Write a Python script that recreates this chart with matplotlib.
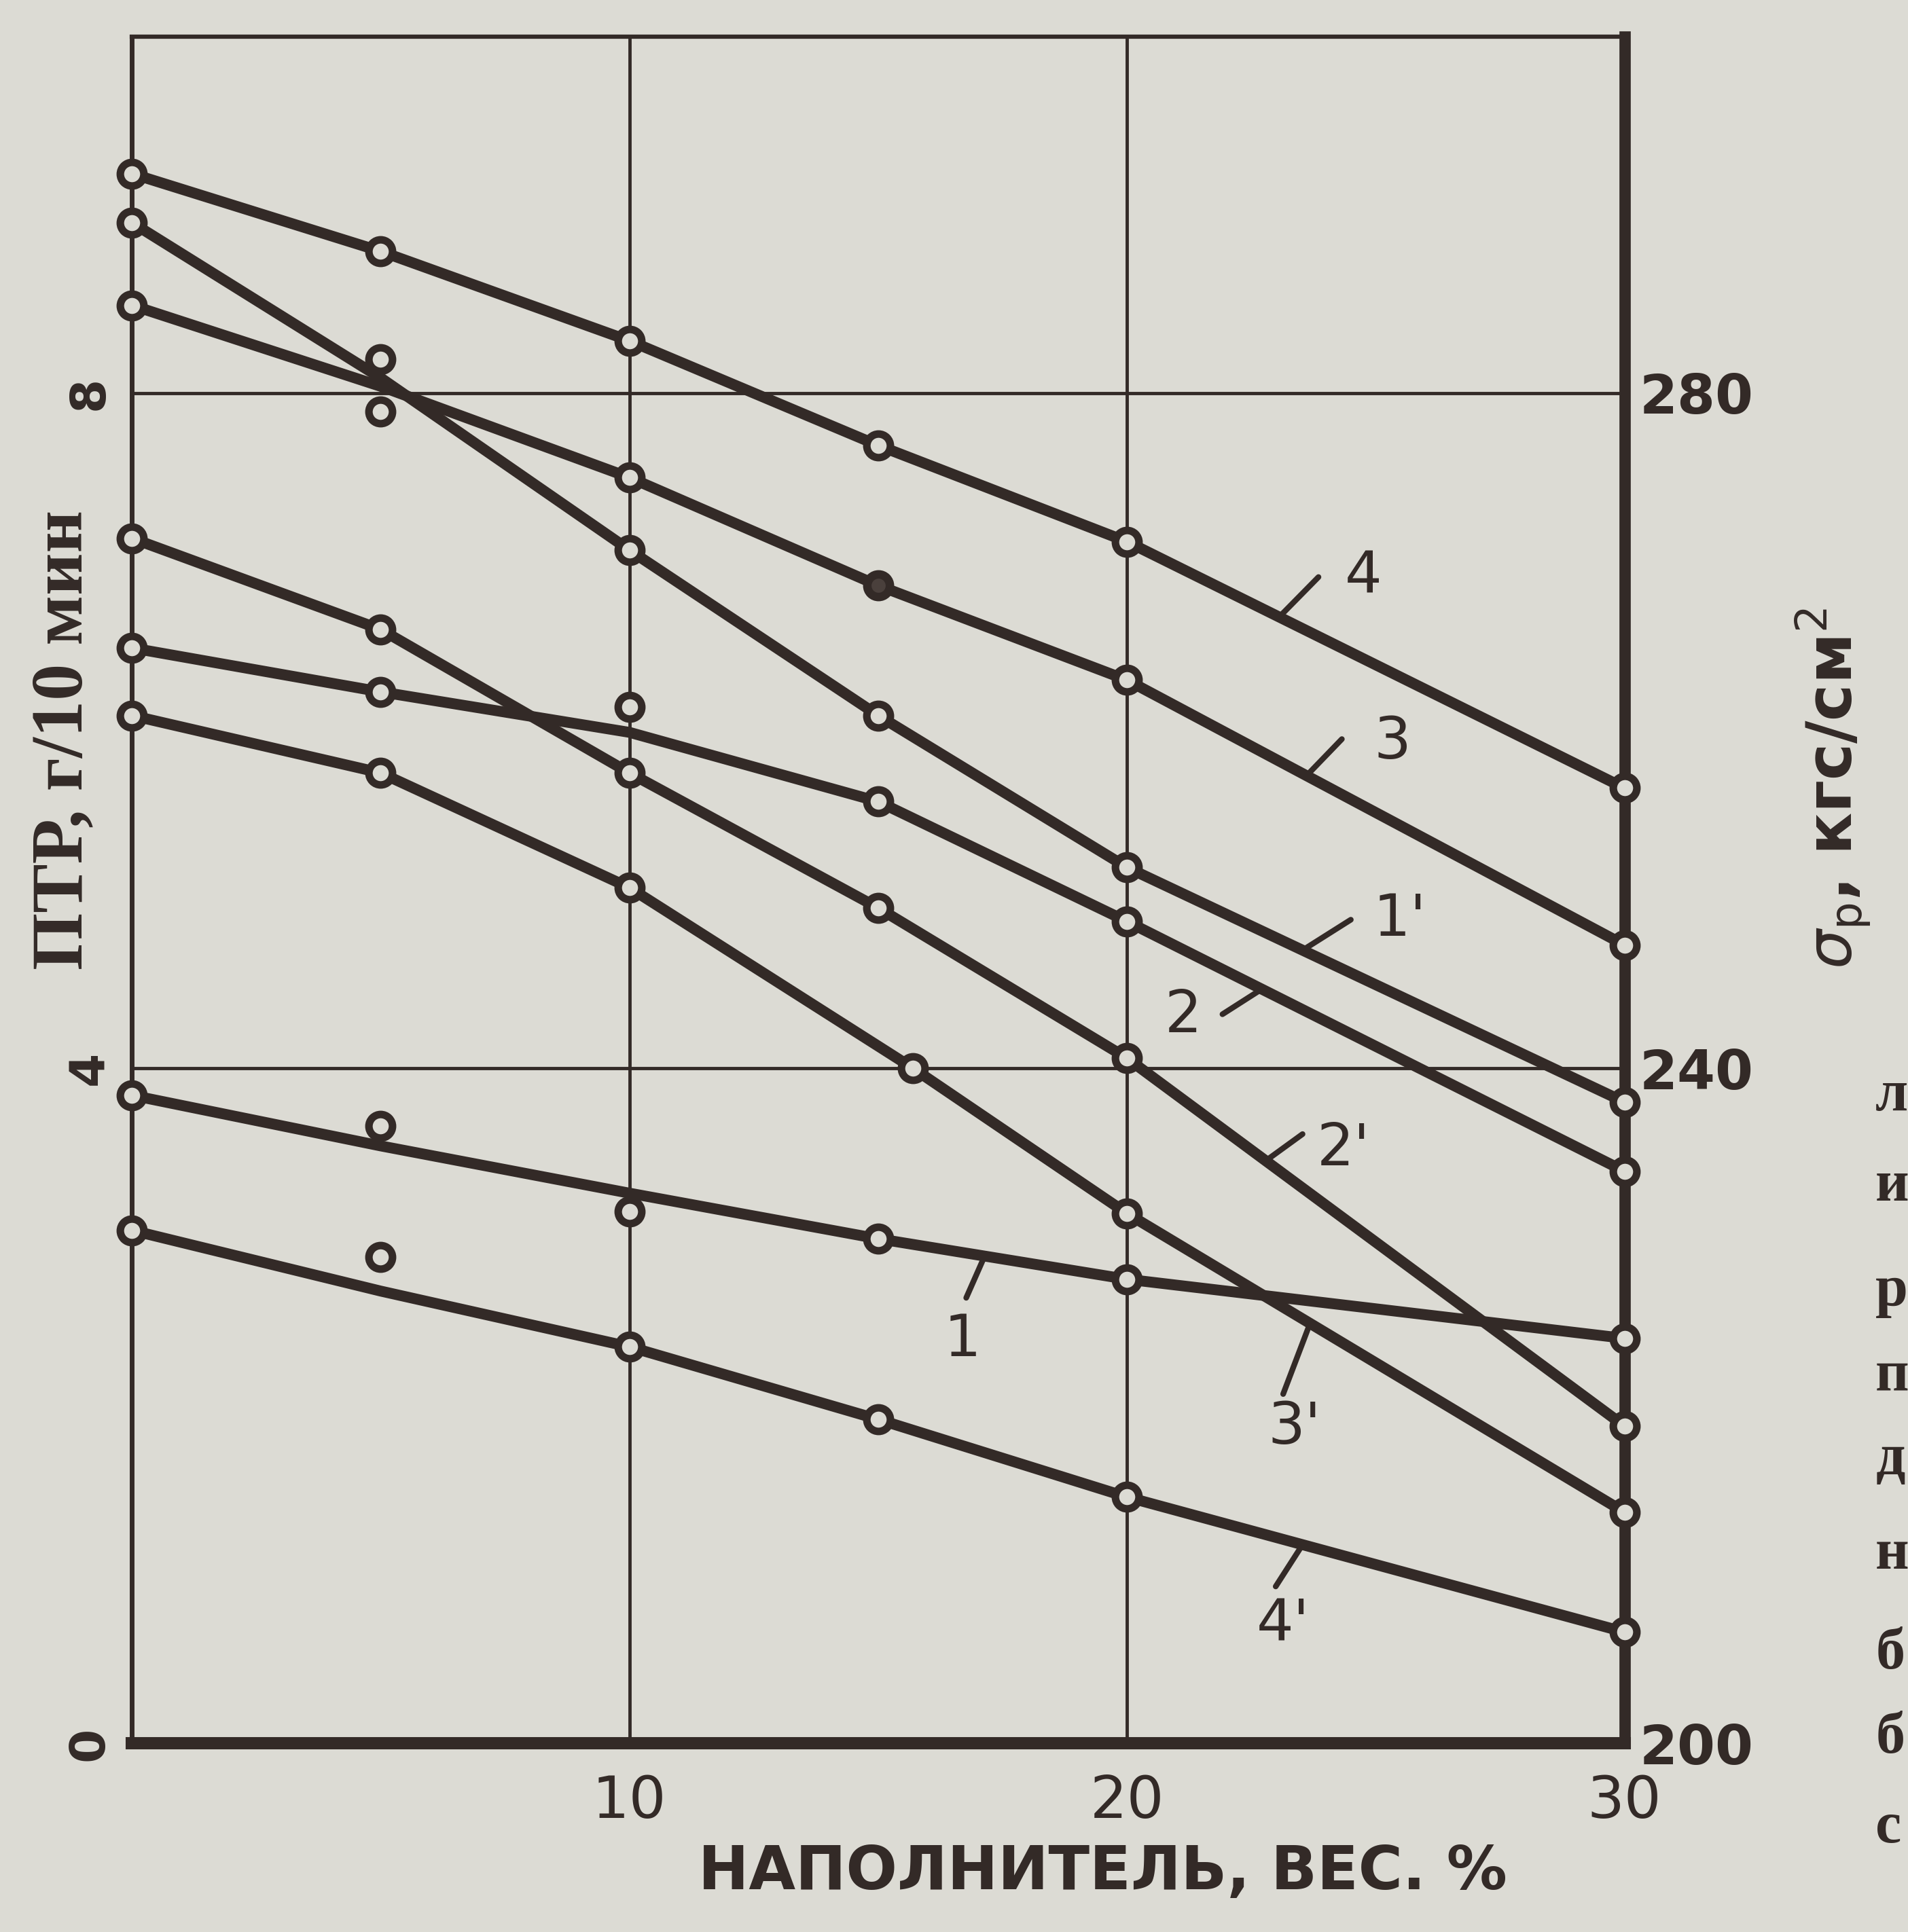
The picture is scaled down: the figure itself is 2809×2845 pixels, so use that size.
import matplotlib
matplotlib.use("Agg")
import matplotlib.pyplot as plt
import numpy as np

# ---------------- data ----------------
filler = [0, 5, 10, 15, 20, 30]            # НАПОЛНИТЕЛЬ, вес. %
filler_3p = [0, 5, 10, 15.7, 20, 30]

# ПТР, г/10 мин (left axis) -- curves 1..4
ptr_4 = [9.30, 8.84, 8.31, 7.69, 7.12, 5.66]
ptr_3_line = [8.52, 8.04, 7.50, 6.86, 6.30, 4.73]
ptr_3_pts = [8.52, 7.89, 7.50, 6.86, 6.30, 4.73]
ptr_2_line = [6.49, 6.23, 5.99, 5.58, 4.87, 3.39]
ptr_2_pts = [6.49, 6.23, 6.14, 5.58, 4.87, 3.39]
ptr_1_line = [3.84, 3.54, 3.26, 2.99, 2.75, 2.40]
ptr_1_pts = [3.84, 3.66, 3.15, 2.99, 2.75, 2.40]

# σр, кгс/см² (right axis) -- curves 1'..4'
sig_1_line = [290.1, 280.9, 270.7, 260.9, 251.9, 238.0]
sig_1_pts = [290.1, 282.0, 270.7, 260.9, 251.9, 238.0]
sig_2 = [271.4, 266.0, 257.5, 249.5, 240.6, 218.8]
sig_3 = [260.9, 257.5, 250.7, 240.0, 231.4, 213.7]
sig_4_line = [230.4, 226.8, 223.5, 219.2, 214.6, 206.6]
sig_4_pts = [230.4, 228.8, 223.5, 219.2, 214.6, 206.6]

x_ticks = [10, 20, 30]
x_tick_labels = ["10", "20", "30"]
left_ticks = [0, 4, 8]
left_tick_labels = ["0", "4", "8"]
right_ticks = [200, 240, 280]
right_tick_labels = ["200", "240", "280"]
page_letters = ["л", "и", "р", "п", "д", "н", "б", "б", "с"]

# ---------------- style ----------------
PAPER = "#dcdbd4"
INK = "#332a27"
LW = 11.5
MS = 25
MEW = 8

fig = plt.figure(figsize=(28.09, 28.45), dpi=100, facecolor=PAPER)
ax = fig.add_axes([0.0691, 0.0976, 0.8514 - 0.0691, 0.9809 - 0.0976])
ax.set_facecolor(PAPER)
ax.set_xlim(0, 30)
ax.set_ylim(0, 10.11)
ax2 = ax.twinx()
ax2.set_ylim(200, 301.1)

# grid & spines
ax.set_xticks(x_ticks)
ax.set_xticklabels(x_tick_labels)
ax.set_yticks(left_ticks)
ax.set_yticklabels(left_tick_labels)
ax.grid(True, color=INK, lw=3.5)
ax.set_axisbelow(True)
ax.spines["left"].set_linewidth(5)
ax.spines["top"].set_linewidth(4.5)
ax.spines["bottom"].set_linewidth(13)
ax.spines["right"].set_linewidth(12)
for s in ["left", "top", "bottom", "right"]:
    ax.spines[s].set_color(INK)
    ax2.spines[s].set_visible(False)

ax.tick_params(axis="x", length=0, pad=32, labelsize=62, labelcolor=INK)
ax.tick_params(axis="y", length=0, pad=20, labelsize=52, labelcolor=INK)
for t in ax.get_yticklabels():
    t.set_rotation(90)
    t.set_va("center")
    t.set_fontweight("bold")
ax2.set_yticks(right_ticks)
ax2.set_yticklabels(right_tick_labels)
ax2.tick_params(axis="y", length=0, pad=16, labelsize=58, labelcolor=INK)
for t in ax2.get_yticklabels():
    t.set_fontweight("bold")

line_kw = dict(color=INK, lw=LW, solid_joinstyle="round", solid_capstyle="round",
               zorder=3, clip_on=False)
mk_kw = dict(ls="none", marker="o", ms=MS, mew=MEW, mec=INK, mfc=PAPER, zorder=5,
             clip_on=False)

# curves on left axis
ax.plot(filler, ptr_4, **line_kw)
ax.plot(filler, ptr_4, **mk_kw)
ax.plot(filler, ptr_3_line, **line_kw)
ax.plot(filler, ptr_3_pts, **mk_kw)
ax.plot(filler[3], ptr_3_pts[3], ls="none", marker="o", ms=MS - 2, mew=MEW, mec=INK,
        mfc="#4a403c", zorder=6)
ax.plot(filler, ptr_2_line, **line_kw)
ax.plot(filler, ptr_2_pts, **mk_kw)
ax.plot(filler, ptr_1_line, **line_kw)
ax.plot(filler, ptr_1_pts, **mk_kw)

# curves on right axis
ax2.plot(filler, sig_1_line, **line_kw)
ax2.plot(filler, sig_1_pts, **mk_kw)
ax2.plot(filler, sig_2, **line_kw)
ax2.plot(filler, sig_2, **mk_kw)
ax2.plot(filler_3p, sig_3, **line_kw)
ax2.plot(filler_3p, sig_3, **mk_kw)
ax2.plot(filler, sig_4_line, **line_kw)
ax2.plot(filler, sig_4_pts, **mk_kw)

# curve labels with leader strokes
def label(axis, text, xs, ys, xa, end, tpos):
    ya = np.interp(xa, xs, ys)
    axis.annotate("", xy=(xa, ya), xytext=end,
                  arrowprops=dict(arrowstyle="-", lw=6, color=INK, shrinkA=0, shrinkB=0),
                  zorder=4)
    axis.text(tpos[0], tpos[1], text, fontsize=62, color=INK, ha="center", va="center",
              family="DejaVu Sans", fontweight="medium")

label(ax, "4", filler, ptr_4, 23.06, (23.85, 6.91), (24.75, 6.91))
label(ax, "3", filler, ptr_3_line, 23.61, (24.32, 5.95), (25.34, 5.93))
label(ax, "2", filler, ptr_2_line, 22.71, (21.92, 4.32), (21.13, 4.31))
label(ax, "1", filler, ptr_1_line, 17.14, (16.77, 2.64), (16.70, 2.39))
label(ax2, "1'", filler, sig_1_line, 23.53, (24.50, 248.8), (25.49, 248.8))
label(ax2, "2'", filler, sig_2, 22.79, (23.53, 236.1), (24.35, 235.2))
label(ax2, "3'", filler_3p, sig_3, 23.68, (23.14, 220.7), (23.36, 218.7))
label(ax2, "4'", filler, sig_4_line, 23.53, (22.99, 209.3), (23.14, 207.0))

# axis titles
fig.text(0.578, 0.0306, "НАПОЛНИТЕЛЬ, ВЕС. %", fontsize=64, color=INK,
         ha="center", va="center", family="DejaVu Sans", fontweight="bold")
fig.text(0.0336, 0.617, "ПТР, г/10 мин", fontsize=78, color=INK, rotation=90,
         ha="center", va="center", family="Liberation Serif", fontweight="bold")
fig.text(0.9606, 0.592, r"$\sigma_{\mathrm{р}}$, кгс/см$^{2}$", fontsize=66, color=INK,
         rotation=90, ha="center", va="center", family="DejaVu Sans", fontweight="bold")

# fragments of the book page at the right edge
letter_y = [890, 963, 1048, 1117, 1185, 1262, 1343, 1411, 1484]
for ch, yy in zip(page_letters, letter_y):
    fig.text(0.983, 1 - yy / 1568, ch, fontsize=62, color=INK, ha="left", va="center",
             family="Liberation Serif", fontweight="bold")

fig.savefig("out.png", dpi=100, facecolor=PAPER)
